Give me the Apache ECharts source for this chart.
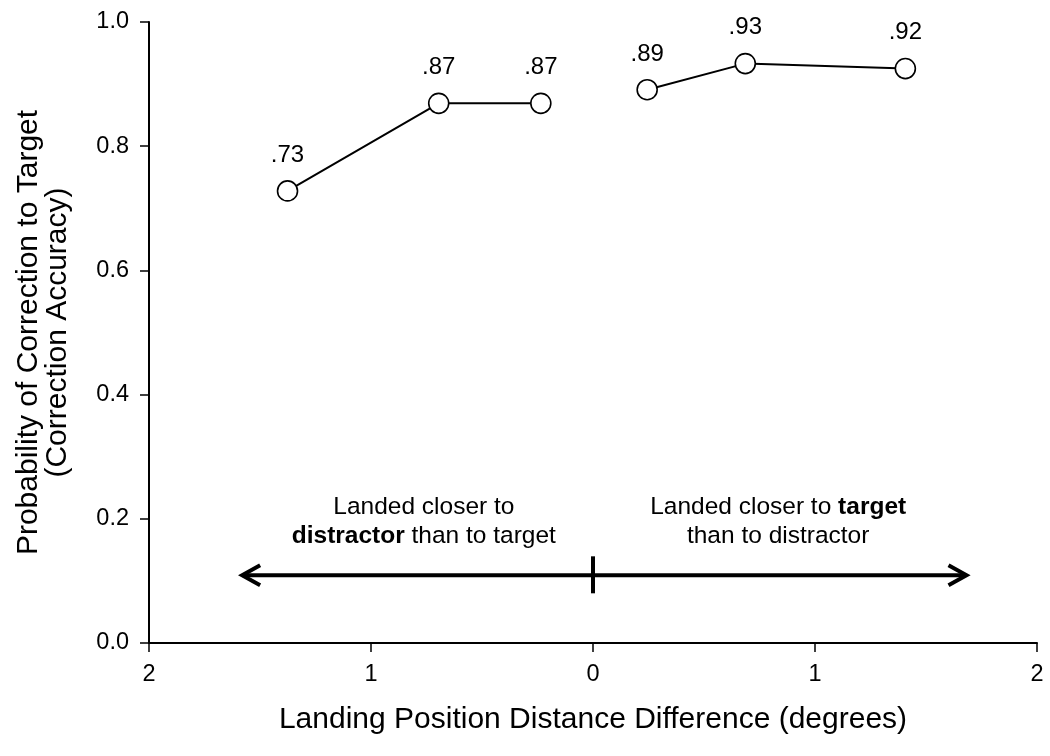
<!DOCTYPE html>
<html>
<head>
<meta charset="utf-8">
<script src="https://cdn.jsdelivr.net/npm/echarts@6/dist/echarts.min.js"></script>
<style>html,body{margin:0;padding:0;background:#fff}#c{width:1050px;height:756px}</style>
</head>
<body>
<div id="c"></div>
<script>
// Data
const closerToDistractorX = [-1.376, -0.695, -0.235];
const closerToDistractorY = [0.728, 0.869, 0.869];
const closerToDistractorLabels = ['.73', '.87', '.87'];
const closerToTargetX = [0.244, 0.686, 1.407];
const closerToTargetY = [0.891, 0.933, 0.925];
const closerToTargetLabels = ['.89', '.93', '.92'];
const xTicks = [-2, -1, 0, 1, 2];
const yTicks = [0, 0.2, 0.4, 0.6, 0.8, 1.0];
const arrowLeftX = -1.585, arrowRightX = 1.687, arrowY = 0.109, arrowMidX = 0;
const annotLeft = {x: -0.762, y: 0.195, text: '{n|Landed closer to}\n{b|distractor}{n| than to target}'};
const annotRight = {x: 0.834, y: 0.195, text: '{n|Landed closer to }{b|target}\n{n|than to distractor}'};

const FONT = 'Liberation Sans, Arial, sans-serif';
const pair = (xs, ys) => xs.map((x, i) => [x, ys[i]]);

function lineSeries(xs, ys, labels) {
  return {
    type: 'line',
    data: pair(xs, ys),
    symbol: 'circle',
    symbolSize: 20,
    lineStyle: {color: '#000', width: 2},
    itemStyle: {color: '#fff', borderColor: '#000', borderWidth: 1.6},
    label: {
      show: true, position: 'top', distance: 13,
      formatter: p => labels[p.dataIndex],
      color: '#000', fontSize: 24, fontFamily: FONT
    },
    z: 3, silent: true, animation: false
  };
}

const chart = echarts.init(document.getElementById('c'));
chart.setOption({
  animation: false,
  backgroundColor: '#fff',
  grid: {left: 149, right: 13, top: 22, bottom: 113},
  xAxis: {
    type: 'value', min: xTicks[0], max: xTicks[xTicks.length - 1], interval: 1,
    axisLine: {show: true, onZero: false, lineStyle: {color: '#000', width: 2}},
    axisTick: {show: true, length: 9, lineStyle: {color: '#000', width: 1.5}},
    splitLine: {show: false},
    axisLabel: {formatter: v => String(Math.abs(v)), color: '#000', fontSize: 23.5, fontFamily: FONT, margin: 20},
    name: 'Landing Position Distance Difference (degrees)',
    nameLocation: 'middle', nameGap: 62,
    nameTextStyle: {color: '#000', fontSize: 30, fontFamily: FONT}
  },
  yAxis: {
    type: 'value', min: yTicks[0], max: yTicks[yTicks.length - 1], interval: 0.2,
    axisLine: {show: true, onZero: false, lineStyle: {color: '#000', width: 2}},
    axisTick: {show: true, length: 9, lineStyle: {color: '#000', width: 1.5}},
    splitLine: {show: false},
    axisLabel: {formatter: v => v.toFixed(1), color: '#000', fontSize: 23.5, fontFamily: FONT, margin: 20},
    name: 'Probability of Correction to Target\n(Correction Accuracy)',
    nameLocation: 'middle', nameGap: 77,
    nameTextStyle: {color: '#000', fontSize: 30, fontFamily: FONT, lineHeight: 29}
  },
  series: [
    lineSeries(closerToDistractorX, closerToDistractorY, closerToDistractorLabels),
    lineSeries(closerToTargetX, closerToTargetY, closerToTargetLabels),
    {
      type: 'custom',
      silent: true,
      data: [[arrowMidX, arrowY]],
      renderItem: function (params, api) {
        const L = api.coord([arrowLeftX, arrowY]);
        const R = api.coord([arrowRightX, arrowY]);
        const M = api.coord([arrowMidX, arrowY]);
        const tl = api.coord([annotLeft.x, annotLeft.y]);
        const tr = api.coord([annotRight.x, annotRight.y]);
        const st = {stroke: '#000', lineWidth: 4, fill: null, lineCap: 'butt', lineJoin: 'miter'};
        const rich = {
          n: {fontSize: 24.5, fontFamily: FONT, color: '#000', lineHeight: 29},
          b: {fontSize: 24.5, fontFamily: FONT, color: '#000', fontWeight: 'bold', lineHeight: 29}
        };
        return {
          type: 'group',
          children: [
            {type: 'line', shape: {x1: L[0] + 2, y1: L[1], x2: R[0] - 2, y2: R[1]}, style: st},
            {type: 'polyline', shape: {points: [[L[0] + 19, L[1] - 10], [L[0] + 1, L[1]], [L[0] + 19, L[1] + 10]]}, style: st},
            {type: 'polyline', shape: {points: [[R[0] - 19, R[1] - 10], [R[0] - 1, R[1]], [R[0] - 19, R[1] + 10]]}, style: st},
            {type: 'line', shape: {x1: M[0], y1: M[1] - 19, x2: M[0], y2: M[1] + 18}, style: st},
            {type: 'text', style: {text: annotLeft.text, rich: rich, x: tl[0], y: tl[1], align: 'center', verticalAlign: 'middle'}},
            {type: 'text', style: {text: annotRight.text, rich: rich, x: tr[0], y: tr[1], align: 'center', verticalAlign: 'middle'}}
          ]
        };
      },
      z: 2
    }
  ]
});
</script>
</body>
</html>
